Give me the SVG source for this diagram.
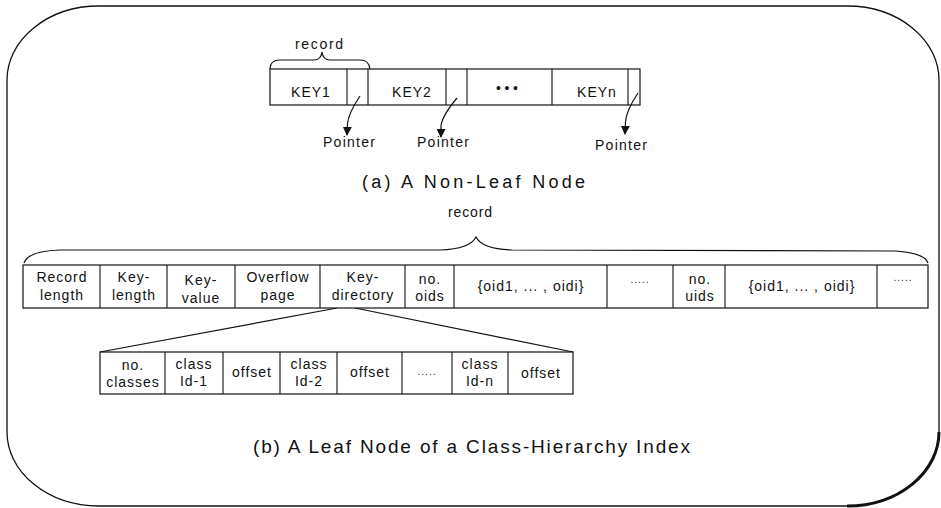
<svg xmlns="http://www.w3.org/2000/svg" width="941" height="508" viewBox="0 0 941 508">
<style>
  .cell { fill: #fff; stroke: #111; stroke-width: 1.2; }
  .div { stroke: #111; stroke-width: 1.1; }
  .t { font-family: "Liberation Sans", Arial, sans-serif; font-size: 14px; fill: #111; letter-spacing: 1px; text-anchor: middle; }
  .lbl { font-family: "Liberation Sans", Arial, sans-serif; font-size: 14px; fill: #111; }
  .title { font-family: "Liberation Sans", Arial, sans-serif; fill: #111; }
  .ln { fill: none; stroke: #111; stroke-width: 1.2; }
  .dots { font-family: "Liberation Sans", Arial, sans-serif; font-size: 10px; fill: #222; letter-spacing: 1px; text-anchor: middle; }
</style>
<defs>
  <marker id="ah" viewBox="0 0 10 10" refX="9" refY="5" markerWidth="9" markerHeight="9" orient="auto" markerUnits="userSpaceOnUse">
    <path d="M0,0 L10,5 L0,10 z" fill="#111"/>
  </marker>
</defs>
<rect width="941" height="508" fill="#fff"/>

<g id="frame">
  <rect x="7" y="6" width="932" height="500" rx="92" ry="74" fill="none" stroke="#111" stroke-width="1.3"/>
  <path d="M939,432 A92,74 0 0 1 847,506" fill="none" stroke="#111" stroke-width="3"/>
</g>

<g id="nonleaf-node">
  <rect class="cell" x="270" y="69" width="370" height="36"/>
  <line class="div" x1="347" y1="69" x2="347" y2="105"/>
  <line class="div" x1="368" y1="69" x2="368" y2="105"/>
  <line class="div" x1="446" y1="69" x2="446" y2="105"/>
  <line class="div" x1="467" y1="69" x2="467" y2="105"/>
  <line class="div" x1="552" y1="69" x2="552" y2="105"/>
  <line class="div" x1="628" y1="69" x2="628" y2="105"/>
  <text class="t" x="311" y="97">KEY1</text>
  <text class="t" x="412" y="97">KEY2</text>
  <text x="496" y="93" font-family="Liberation Sans, Arial, sans-serif" font-size="14" fill="#111" textLength="22" lengthAdjust="spacing">•••</text>
  <text class="t" x="597" y="97">KEYn</text>
</g>

<g id="nonleaf-record-brace">
  <path class="ln" d="M270,69 Q270,60 280,60 L314,60 Q321,60 322,52 Q323,60 330,60 L360,60 Q369,60 370,69"/>
  <text class="lbl" x="295" y="49" textLength="48" lengthAdjust="spacing">record</text>
</g>

<g id="pointers">
  <text class="lbl" x="323" y="147" textLength="52" lengthAdjust="spacing">Pointer</text>
  <text class="lbl" x="417" y="147" textLength="52" lengthAdjust="spacing">Pointer</text>
  <text class="lbl" x="595" y="150" textLength="52" lengthAdjust="spacing">Pointer</text>
</g>

<g id="connectors">
  <path class="ln" d="M360,96 Q348,114 347.5,124 L347,135" marker-end="url(#ah)"/>
  <path class="ln" d="M457,98 Q442,116 441,126 L441,137" marker-end="url(#ah)"/>
  <path class="ln" d="M638,93 Q626,111 625.5,122 L625,134" marker-end="url(#ah)"/>
  <line class="ln" x1="337" y1="308" x2="100" y2="352"/>
  <line class="ln" x1="355" y1="308" x2="573" y2="352"/>
</g>

<g id="title-a">
  <text class="title" x="362" y="188" font-size="18" textLength="223" lengthAdjust="spacing">(a) A Non-Leaf Node</text>
</g>

<g id="leaf-record-brace">
  <text class="lbl" x="448" y="217" textLength="44" lengthAdjust="spacing">record</text>
  <path class="ln" d="M24,263 Q28,251 60,250 L440,250 Q470,249 476,237 Q482,249 512,250 L895,251 Q925,253 928,263"/>
</g>

<g id="leaf-node">
  <rect class="cell" x="23" y="265" width="905" height="43"/>
  <line class="div" x1="100" y1="265" x2="100" y2="308"/>
  <line class="div" x1="167" y1="265" x2="167" y2="308"/>
  <line class="div" x1="235" y1="265" x2="235" y2="308"/>
  <line class="div" x1="320" y1="265" x2="320" y2="308"/>
  <line class="div" x1="405" y1="265" x2="405" y2="308"/>
  <line class="div" x1="454" y1="265" x2="454" y2="308"/>
  <line class="div" x1="607" y1="265" x2="607" y2="308"/>
  <line class="div" x1="673" y1="265" x2="673" y2="308"/>
  <line class="div" x1="725" y1="265" x2="725" y2="308"/>
  <line class="div" x1="877" y1="265" x2="877" y2="308"/>
  <text class="t" x="62" y="282">Record</text>
  <text class="t" x="62" y="300">length</text>
  <text class="t" x="134" y="282">Key-</text>
  <text class="t" x="134" y="300">length</text>
  <text class="t" x="201" y="285">Key-</text>
  <text class="t" x="201" y="303">value</text>
  <text class="t" x="278" y="282">Overflow</text>
  <text class="t" x="278" y="300">page</text>
  <text class="t" x="363" y="282">Key-</text>
  <text class="t" x="363" y="300">directory</text>
  <text class="t" x="430" y="284">no.</text>
  <text class="t" x="430" y="301">oids</text>
  <text class="t" x="531" y="291">{oid1, ... , oidi}</text>
  <text class="dots" x="640" y="283">.....</text>
  <text class="t" x="700" y="284">no.</text>
  <text class="t" x="700" y="301">uids</text>
  <text class="t" x="802" y="291">{oid1, ... , oidi}</text>
  <text class="dots" x="903" y="281">.....</text>
</g>

<g id="key-directory">
  <rect class="cell" x="100" y="352" width="473" height="42"/>
  <line class="div" x1="165" y1="352" x2="165" y2="394"/>
  <line class="div" x1="223" y1="352" x2="223" y2="394"/>
  <line class="div" x1="280" y1="352" x2="280" y2="394"/>
  <line class="div" x1="337" y1="352" x2="337" y2="394"/>
  <line class="div" x1="402" y1="352" x2="402" y2="394"/>
  <line class="div" x1="452" y1="352" x2="452" y2="394"/>
  <line class="div" x1="508" y1="352" x2="508" y2="394"/>
  <text class="t" x="133" y="370">no.</text>
  <text class="t" x="133" y="387">classes</text>
  <text class="t" x="194" y="369">class</text>
  <text class="t" x="194" y="386">Id-1</text>
  <text class="t" x="252" y="377">offset</text>
  <text class="t" x="309" y="369">class</text>
  <text class="t" x="309" y="386">Id-2</text>
  <text class="t" x="370" y="377">offset</text>
  <text class="dots" x="427" y="375">.....</text>
  <text class="t" x="480" y="369">class</text>
  <text class="t" x="480" y="386">Id-n</text>
  <text class="t" x="541" y="378">offset</text>
</g>

<g id="title-b">
  <text class="title" x="253" y="453" font-size="19" textLength="437" lengthAdjust="spacing">(b) A Leaf Node of a Class-Hierarchy Index</text>
</g>
</svg>
